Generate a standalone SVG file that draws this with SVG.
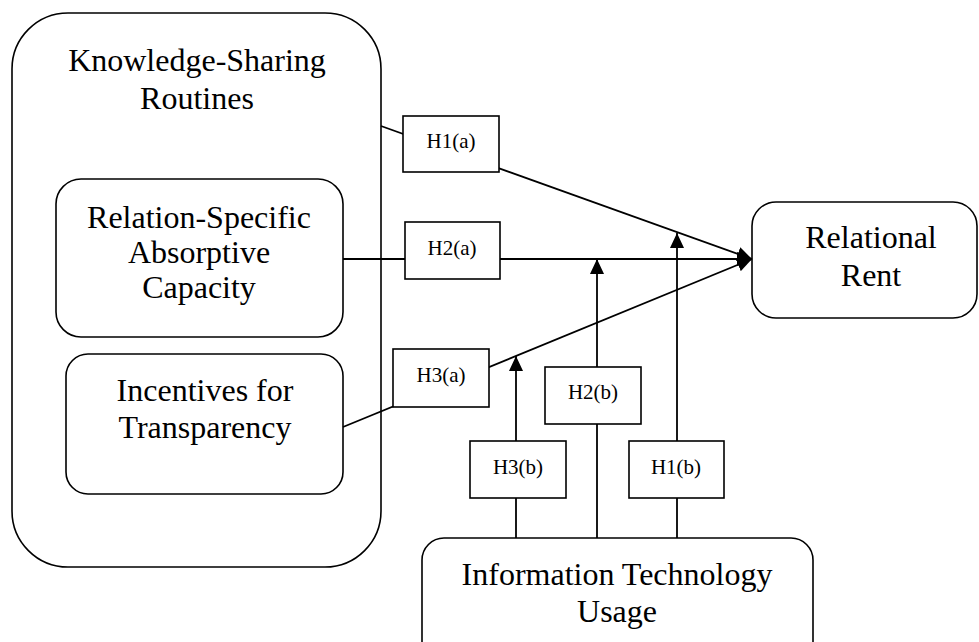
<svg xmlns="http://www.w3.org/2000/svg" width="979" height="642" viewBox="0 0 979 642">
<style>
.box{fill:#fff;stroke:#000;stroke-width:1.6}
.big{font-family:"Liberation Serif","Times New Roman",serif;font-size:32px;fill:#000;text-anchor:middle}
.lab{font-family:"Liberation Serif","Times New Roman",serif;font-size:21px;fill:#000;text-anchor:middle}
.ln{stroke:#000;stroke-width:1.8;fill:none}
</style>
<defs>
<marker id="arr" viewBox="0 0 15 14" refX="15" refY="7" markerWidth="15" markerHeight="14" markerUnits="userSpaceOnUse" orient="auto">
<path d="M0,0 L15,7 L0,14 Z" fill="#000"/>
</marker>
</defs>
<rect width="979" height="642" fill="#fff"/>
<g id="knowledge-sharing">
<rect class="box" x="12" y="13" width="369" height="554" rx="56" ry="56"/>
<text class="big" x="197" y="71">Knowledge-Sharing</text>
<text class="big" x="197" y="109">Routines</text>
</g>
<g id="absorptive-capacity">
<rect class="box" x="56" y="179" width="287" height="158" rx="25" ry="25"/>
<text class="big" x="199" y="228">Relation-Specific</text>
<text class="big" x="199" y="263">Absorptive</text>
<text class="big" x="199" y="298">Capacity</text>
</g>
<g id="incentives">
<rect class="box" x="66" y="354" width="277" height="140" rx="22" ry="22"/>
<text class="big" x="205" y="401">Incentives for</text>
<text class="big" x="205" y="438">Transparency</text>
</g>
<g id="relational-rent">
<rect class="box" x="752" y="202" width="225" height="116" rx="24" ry="24"/>
<text class="big" x="871" y="248">Relational</text>
<text class="big" x="871" y="286">Rent</text>
</g>
<g id="it-usage">
<rect class="box" x="422" y="538" width="391" height="130" rx="22" ry="22"/>
<text class="big" x="617" y="585">Information Technology</text>
<text class="big" x="617" y="622">Usage</text>
</g>
<g id="connectors">
<line class="ln" x1="381" y1="126" x2="752" y2="259" marker-end="url(#arr)"/>
<line class="ln" x1="343" y1="259" x2="752" y2="259" marker-end="url(#arr)"/>
<line class="ln" x1="343" y1="427" x2="752" y2="259" marker-end="url(#arr)"/>
<line class="ln" x1="516" y1="538" x2="516" y2="356" marker-end="url(#arr)"/>
<line class="ln" x1="597" y1="538" x2="597" y2="259" marker-end="url(#arr)"/>
<line class="ln" x1="677" y1="538" x2="677" y2="233" marker-end="url(#arr)"/>
</g>
<g id="h1a">
<rect class="box" x="403" y="116" width="96" height="56"/>
<text class="lab" x="451" y="148">H1(a)</text>
</g>
<g id="h2a">
<rect class="box" x="405" y="222" width="95" height="57"/>
<text class="lab" x="452" y="255">H2(a)</text>
</g>
<g id="h3a">
<rect class="box" x="393" y="349" width="96" height="58"/>
<text class="lab" x="441" y="382">H3(a)</text>
</g>
<g id="h2b">
<rect class="box" x="545" y="367" width="96" height="57"/>
<text class="lab" x="593" y="399">H2(b)</text>
</g>
<g id="h3b">
<rect class="box" x="470" y="441" width="96" height="57"/>
<text class="lab" x="518" y="474">H3(b)</text>
</g>
<g id="h1b">
<rect class="box" x="629" y="441" width="95" height="57"/>
<text class="lab" x="676" y="474">H1(b)</text>
</g>
</svg>
